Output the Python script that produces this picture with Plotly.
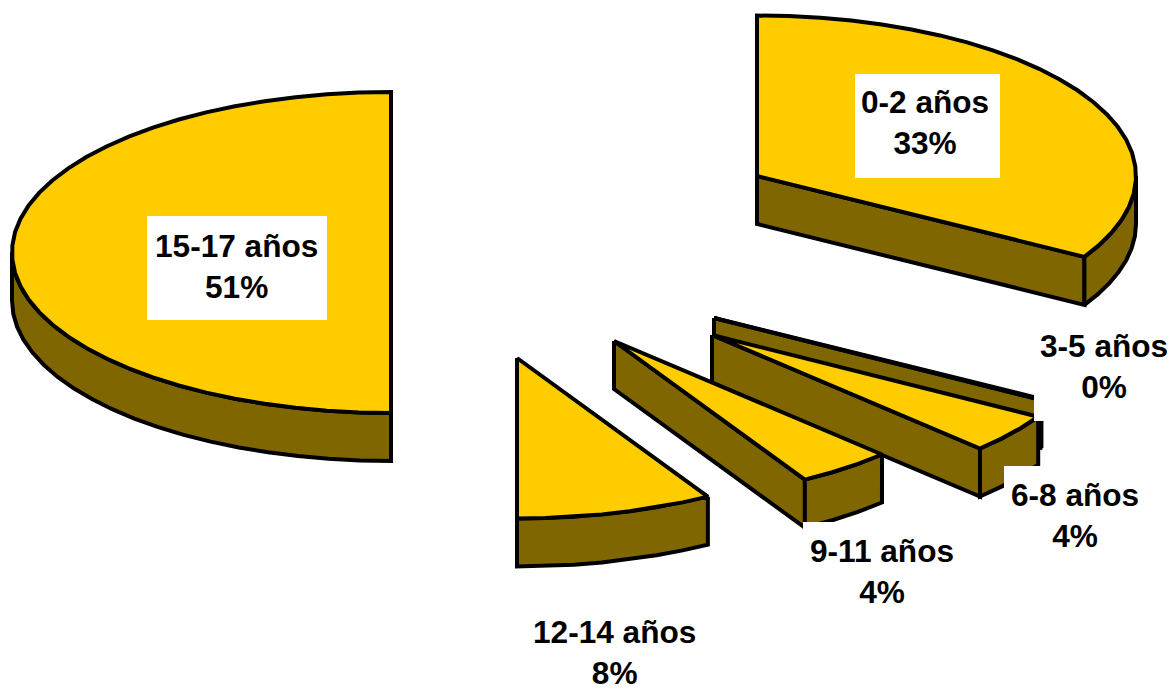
import math
import plotly.graph_objects as go

# Data
age_groups = ["0-2 años", "3-5 años", "6-8 años", "9-11 años", "12-14 años", "15-17 años"]
shares = [33.4, 0.1, 4.0, 4.1, 8.4, 50.0]          # share of the circle, as drawn
printed_pct = ["33%", "0%", "4%", "4%", "8%", "51%"]  # as printed on the labels

# Layout / style (pixel space of the 1174x689 page)
W, H = 1174, 689
RX, RY, DEPTH = 379, 160.5, 48
CENTERS = [(757, 176), (714, 318), (712, 335), (614, 341), (517, 358), (391, 252.5)]
LABEL_BOX = [  # box left, box top, box width, box height
    (855, 74, 145, 104),
    (1034, 317, 140, 104),
    (1004, 466, 142, 104),
    (803, 522, 158, 104),
    (524, 600, 180, 89),
    (147, 216, 180, 104),
]
TEXT_CENTER = [(925, 122.5), (1104, 366.5), (1075, 515.5), (882, 571), (614, 652), (236, 266)]
TOP, SIDE, EDGE = "#FFCC00", "#806600", "#000000"
LW = 4
STEP = 5.0


def pt(c, deg, dz=0.0):
    a = math.radians(deg)
    return c[0] + RX * math.sin(a), c[1] - RY * math.cos(a) + dz


def arc(c, a0, a1, dz=0.0):
    n = max(1, int(math.ceil((a1 - a0) / STEP)))
    return [pt(c, a0 + (a1 - a0) * i / n, dz) for i in range(n + 1)]


fig = go.Figure()


def poly(points, color):
    xs = [p[0] for p in points] + [points[0][0]]
    ys = [p[1] for p in points] + [points[0][1]]
    fig.add_trace(go.Scatter(x=xs, y=ys, mode="lines", fill="toself", fillcolor=color,
                             line=dict(color=EDGE, width=LW), hoverinfo="skip", showlegend=False))


total = sum(shares)
start = 0.0
for share, c in zip(shares, CENTERS):
    end = start + share / total * 360.0
    # radial wall on the clockwise edge, visible when it faces the viewer
    if 0 < end < 180:
        poly([c, pt(c, end), pt(c, end, DEPTH), (c[0], c[1] + DEPTH)], SIDE)
    # outer wall: the part of the rim on the front half
    a0, a1 = max(start, 90.0), min(end, 270.0)
    if a1 > a0:
        poly(arc(c, a0, a1) + arc(c, a0, a1, DEPTH)[::-1], SIDE)
    # top face
    poly([c] + arc(c, start, end), TOP)
    start = end

# White label backgrounds as rectangles above the traces, then the label texts
shapes = [dict(type="rect", xref="x", yref="y", x0=l, x1=l + bw, y0=t, y1=t + bh,
               fillcolor="#FFFFFF", line=dict(width=0), layer="above")
          for l, t, bw, bh in LABEL_BOX]
annotations = [dict(
    x=tx, y=ty, xref="x", yref="y",
    text=f"{name}<br>{pct}", showarrow=False, align="center",
    xanchor="center", yanchor="middle",
    font=dict(family="Liberation Sans", size=31.6, color="#000000", weight="bold"),
) for name, pct, (tx, ty) in zip(age_groups, printed_pct, TEXT_CENTER)]

fig.update_layout(
    width=W, height=H, margin=dict(l=0, r=0, t=0, b=0),
    paper_bgcolor="#FFFFFF", plot_bgcolor="#FFFFFF", showlegend=False,
    xaxis=dict(range=[0, W], visible=False, fixedrange=True),
    yaxis=dict(range=[H, 0], visible=False, fixedrange=True),
    shapes=shapes, annotations=annotations,
)
fig.write_html("out.html", config={"displayModeBar": False},
               post_script="document.body.style.margin='0';document.documentElement.style.overflow='hidden';")
